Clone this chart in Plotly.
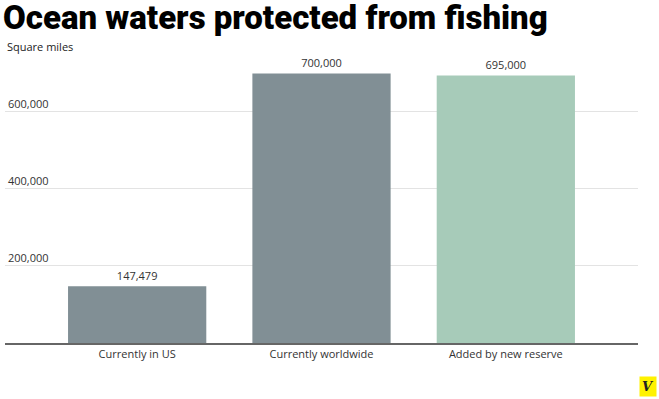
import plotly.graph_objects as go

categories = ["Currently in US", "Currently worldwide", "Added by new reserve"]
values = [147479, 700000, 695000]
value_labels = ["147,479", "700,000", "695,000"]
bar_colors = ["#818f95", "#818f95", "#a7cbb9"]
tick_vals = [200000, 400000, 600000]
tick_text = ["200,000", "400,000", "600,000"]

fig = go.Figure(go.Bar(
    x=categories, y=values, text=value_labels, textposition="outside",
    textfont=dict(size=11, color="#333333", family="Open Sans"),
    marker=dict(color=bar_colors, line=dict(width=0)),
    cliponaxis=False, hoverinfo="skip",
))

fig.update_layout(
    width=659, height=399,
    margin=dict(l=5, r=21, t=60, b=56),
    paper_bgcolor="white", plot_bgcolor="white",
    bargap=0.25,
    showlegend=False,
    font=dict(family="Open Sans", size=11, color="#333333"),
    xaxis=dict(range=[-0.717, 2.717], showline=True, linecolor="#666666", linewidth=2,
               showgrid=False, zeroline=False, ticks="", tickfont=dict(size=11, color="#333333")),
    yaxis=dict(range=[0, 735000], tickvals=tick_vals, ticktext=tick_text,
               ticklabelposition="inside top", showgrid=True, gridcolor="#e3e3e3",
               gridwidth=1, zeroline=False, showline=False, ticks="",
               tickfont=dict(size=11, color="#333333")),
    annotations=[
        dict(text="Ocean waters protected from fishing", xref="paper", yref="paper",
             x=0, y=1, xshift=-4, yshift=64, xanchor="left", yanchor="top",
             showarrow=False,
             font=dict(family="Roboto", size=33, weight=900, color="#000000")),
        dict(text="Square miles", xref="paper", yref="paper", x=0, y=1,
             yshift=4, xanchor="left", yanchor="bottom", showarrow=False,
             font=dict(size=11, color="#222222")),
        dict(text="<b><i>V</i></b>", xref="paper", yref="paper", x=1, y=0,
             xshift=19, yshift=-54, xanchor="right", yanchor="bottom", showarrow=False,
             bgcolor="#fff200", borderpad=2,
             font=dict(family="DejaVu Serif", size=13, color="#222222")),
    ],
)

fig.write_html("out.html", post_script="document.body.style.margin='0';",
               config={"displayModeBar": False})
